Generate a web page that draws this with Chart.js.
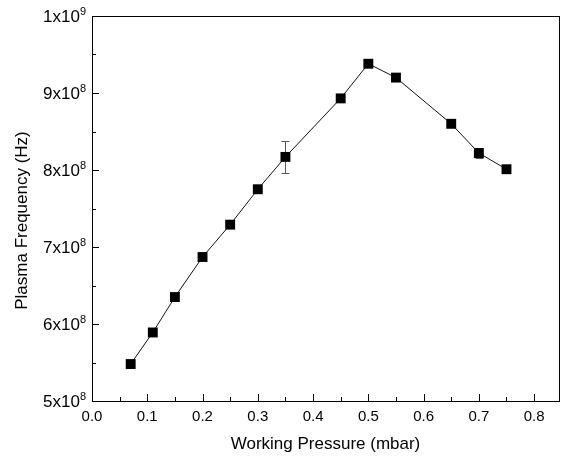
<!DOCTYPE html>
<html>
<head>
<meta charset="utf-8">
<script src="https://cdn.jsdelivr.net/npm/chart.js@4/dist/chart.umd.min.js"></script>
<style>
  html, body { margin: 0; padding: 0; background: #fff; }
  #wrap { width: 566px; height: 459px; }
</style>
</head>
<body>
<div id="wrap"><canvas id="chart"></canvas></div>
<script>
const pressure = [0.07, 0.11, 0.15, 0.2, 0.25, 0.3, 0.35, 0.45, 0.5, 0.55, 0.65, 0.7, 0.75]
const frequency = [5.48e8, 5.89e8, 6.35e8, 6.87e8, 7.29e8, 7.75e8, 8.17e8, 8.93e8, 9.38e8, 9.20e8, 8.60e8, 8.22e8, 8.01e8]
const freqError = [0, 0, 0, 0, 0, 0, 0.21e8, 0, 0, 0, 0, 0.07e8, 0]

const xTicks = [0, 0.1, 0.2, 0.3, 0.4, 0.5, 0.6, 0.7, 0.8]
const xMinor = [0.05, 0.15, 0.25, 0.35, 0.45, 0.55, 0.65, 0.75]
const yTicks = [5e8, 6e8, 7e8, 8e8, 9e8, 1e9]
const yMinor = [5.5e8, 6.5e8, 7.5e8, 8.5e8, 9.5e8]
// mantissa and exponent of each y tick label
const yTickBase = ['5x10', '6x10', '7x10', '8x10', '9x10', '1x10']
const yTickExp = ['8', '8', '8', '8', '8', '9']
const yTitle = 'Plasma Frequency (Hz)'

const points = pressure.map((p, i) => ({x: p, y: frequency[i]}))
const FONT = 'Liberation Sans, Arial, sans-serif'

// inward ticks, frame, error bars and y labels with superscripts
const extras = {
  id: 'extras',
  beforeDatasetsDraw(chart) {
    const ctx = chart.ctx
    const xs = chart.scales.x, ys = chart.scales.y
    const a = chart.chartArea
    ctx.save()
    ctx.strokeStyle = '#000'
    ctx.lineWidth = 1
    ctx.strokeRect(Math.round(a.left) + 0.5, Math.round(a.top) + 0.5, Math.round(a.right - a.left), Math.round(a.bottom - a.top))
    ctx.beginPath()
    xTicks.forEach(v => {
      const px = Math.round(xs.getPixelForValue(v)) + 0.5
      ctx.moveTo(px, a.bottom); ctx.lineTo(px, a.bottom - 7)
    })
    xMinor.forEach(v => {
      const px = Math.round(xs.getPixelForValue(v)) + 0.5
      ctx.moveTo(px, a.bottom); ctx.lineTo(px, a.bottom - 4)
    })
    yTicks.forEach(v => {
      const py = Math.round(ys.getPixelForValue(v)) + 0.5
      ctx.moveTo(a.left, py); ctx.lineTo(a.left + 7, py)
    })
    yMinor.forEach(v => {
      const py = Math.round(ys.getPixelForValue(v)) + 0.5
      ctx.moveTo(a.left, py); ctx.lineTo(a.left + 4, py)
    })
    ctx.stroke()

    ctx.strokeStyle = '#555'
    ctx.beginPath()
    pressure.forEach((p, i) => {
      if (!freqError[i]) return
      const px = Math.round(xs.getPixelForValue(p)) + 0.5
      const top = Math.round(ys.getPixelForValue(frequency[i] + freqError[i])) + 0.5
      const bot = Math.round(ys.getPixelForValue(frequency[i] - freqError[i])) + 0.5
      ctx.moveTo(px, top); ctx.lineTo(px, bot)
      ctx.moveTo(px - 4, top); ctx.lineTo(px + 4, top)
      ctx.moveTo(px - 4, bot); ctx.lineTo(px + 4, bot)
    })
    ctx.stroke()

    ctx.fillStyle = '#000'
    ctx.textBaseline = 'alphabetic'
    ctx.textAlign = 'right'
    yTicks.forEach((v, i) => {
      const py = ys.getPixelForValue(v)
      const right = a.left - 6
      ctx.font = '11px ' + FONT
      const ew = ctx.measureText(yTickExp[i]).width
      ctx.fillText(yTickExp[i], right, py - 1)
      ctx.font = '17px ' + FONT
      ctx.fillText(yTickBase[i], right - ew, py + 6)
    })

    // y title sits a bit below the middle of the axis in the original
    ctx.translate(22, (a.top + a.bottom) / 2 + 12)
    ctx.rotate(-Math.PI / 2)
    ctx.textAlign = 'center'
    ctx.textBaseline = 'middle'
    ctx.font = '17px ' + FONT
    ctx.fillText(yTitle, 0, 0)
    ctx.restore()
  }
}

new Chart(document.getElementById('chart'), {
  type: 'scatter',
  data: {
    datasets: [{
      data: points,
      showLine: true,
      borderColor: '#111',
      borderWidth: 1,
      pointStyle: 'rect',
      pointRadius: 7,
      pointBackgroundColor: '#000',
      pointBorderColor: '#000',
      pointBorderWidth: 0
    }]
  },
  options: {
    responsive: true,
    maintainAspectRatio: false,
    animation: false,
    layout: { padding: { top: 16, right: 4, left: 0, bottom: 0 } },
    plugins: { legend: { display: false }, tooltip: { enabled: false } },
    scales: {
      x: {
        type: 'linear',
        min: 0,
        max: 0.845,
        grid: { display: false, drawTicks: false },
        border: { display: false },
        afterBuildTicks(scale) { scale.ticks = xTicks.map(v => ({value: v})) },
        afterFit(scale) { scale.height = 58 },
        ticks: {
          padding: 7,
          color: '#000',
          font: { family: FONT, size: 15 },
          callback: v => v.toFixed(1)
        },
        title: {
          display: true,
          text: 'Working Pressure (mbar)',
          color: '#000',
          font: { family: FONT, size: 17 },
          padding: { top: 0, bottom: 4 }
        }
      },
      y: {
        type: 'linear',
        min: 5e8,
        max: 1e9,
        grid: { display: false, drawTicks: false },
        border: { display: false },
        afterBuildTicks(scale) { scale.ticks = yTicks.map(v => ({value: v})) },
        afterFit(scale) { scale.width = 92 },
        ticks: { display: false },
        title: { display: false }
      }
    }
  },
  plugins: [extras]
})
</script>
</body>
</html>
